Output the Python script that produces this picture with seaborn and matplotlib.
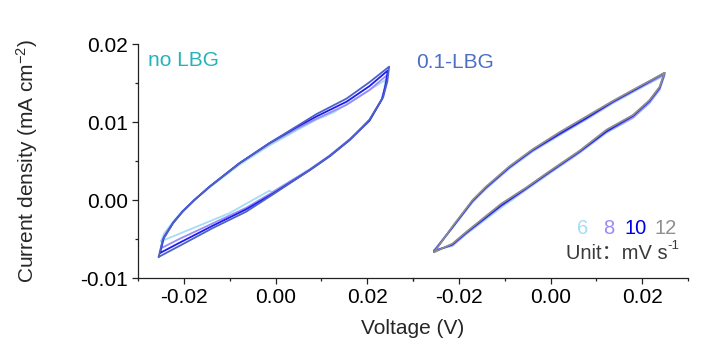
import pandas as pd
import numpy as np
import matplotlib
matplotlib.use('Agg')
import matplotlib.pyplot as plt
from matplotlib.ticker import MultipleLocator
import seaborn as sns

# scan rates (mV/s)
rates = ['6', '8', '10', '12']

# ---- no LBG (left panel) ----
noLBG_lower_V = {
    '6':  [-0.0250, -0.0101, -0.0013, -0.0008, 0.0074, 0.0118, 0.0162, 0.0205, 0.0230, 0.0237, 0.0240],
    '8':  [-0.0250, -0.0210, -0.0137, -0.0064, -0.0006, 0.0074, 0.0118, 0.0162, 0.0205, 0.0232, 0.0239, 0.0243],
    '10': [-0.0252, -0.0210, -0.0137, -0.0064, -0.0006, 0.0074, 0.0118, 0.0162, 0.0205, 0.0233, 0.0241, 0.0245],
    '12': [-0.0255, -0.0210, -0.0137, -0.0064, -0.0006, 0.0074, 0.0118, 0.0162, 0.0205, 0.0235, 0.0244, 0.0248],
}
noLBG_lower_I = {
    '6':  [-0.0053, -0.0017, 0.0012, 0.0010, 0.0039, 0.0057, 0.0078, 0.0101, 0.0127, 0.0141, 0.0154],
    '8':  [-0.0062, -0.0050, -0.0030, -0.0010, 0.0010, 0.0039, 0.0057, 0.0078, 0.0102, 0.0129, 0.0145, 0.0160],
    '10': [-0.0068, -0.0055, -0.0033, -0.0012, 0.0008, 0.0038, 0.0056, 0.0077, 0.0102, 0.0130, 0.0149, 0.0166],
    '12': [-0.0073, -0.0059, -0.0036, -0.0015, 0.0007, 0.0038, 0.0056, 0.0077, 0.0103, 0.0132, 0.0152, 0.0171],
}
noLBG_upper_V = {
    '6':  [-0.0250, -0.0242, -0.0221, -0.0203, -0.0177, -0.0144, -0.0079, -0.0013, 0.0045, 0.0089, 0.0126, 0.0240],
    '8':  [-0.0250, -0.0243, -0.0222, -0.0203, -0.0177, -0.0144, -0.0079, -0.0013, 0.0045, 0.0089, 0.0155, 0.0205, 0.0243],
    '10': [-0.0252, -0.0244, -0.0223, -0.0203, -0.0177, -0.0144, -0.0079, -0.0013, 0.0045, 0.0089, 0.0155, 0.0205, 0.0245],
    '12': [-0.0255, -0.0246, -0.0224, -0.0203, -0.0177, -0.0144, -0.0079, -0.0013, 0.0045, 0.0089, 0.0155, 0.0205, 0.0248],
}
noLBG_upper_I = {
    '6':  [-0.0053, -0.0042, -0.0026, -0.0014, 0.0000, 0.0016, 0.0045, 0.0070, 0.0089, 0.0103, 0.0112, 0.0154],
    '8':  [-0.0062, -0.0046, -0.0028, -0.0015, 0.0000, 0.0017, 0.0047, 0.0072, 0.0091, 0.0104, 0.0122, 0.0141, 0.0160],
    '10': [-0.0068, -0.0049, -0.0029, -0.0015, 0.0000, 0.0017, 0.0047, 0.0073, 0.0093, 0.0107, 0.0126, 0.0146, 0.0166],
    '12': [-0.0073, -0.0051, -0.0030, -0.0015, 0.0000, 0.0017, 0.0047, 0.0073, 0.0094, 0.0110, 0.0130, 0.0151, 0.0171],
}

# ---- 0.1-LBG (right panel) ----
LBG_lower_V = [-0.0254, -0.0214, -0.0184, -0.0108, -0.0053, -0.0002, 0.0063, 0.0122, 0.0180, 0.0216, 0.0238, 0.0249]
LBG_lower_I = {
    '6':  [-0.0064, -0.0059, -0.0044, -0.0010, 0.0013, 0.0034, 0.0060, 0.0086, 0.0105, 0.0124, 0.0141, 0.0160],
    '8':  [-0.0065, -0.0058, -0.0043, -0.0008, 0.0014, 0.0035, 0.0061, 0.0087, 0.0106, 0.0125, 0.0142, 0.0161],
    '10': [-0.0066, -0.0057, -0.0042, -0.0007, 0.0015, 0.0036, 0.0062, 0.0088, 0.0108, 0.0127, 0.0144, 0.0163],
    '12': [-0.0067, -0.0056, -0.0041, -0.0005, 0.0016, 0.0037, 0.0063, 0.0090, 0.0109, 0.0128, 0.0145, 0.0163],
}
LBG_upper_V = [-0.0254, -0.0214, -0.0170, -0.0141, -0.0090, -0.0039, 0.0020, 0.0078, 0.0136, 0.0195, 0.0249]
LBG_upper_I = {
    '6':  [-0.0064, -0.0036, -0.0003, 0.0014, 0.0040, 0.0062, 0.0083, 0.0103, 0.0124, 0.0143, 0.0160],
    '8':  [-0.0065, -0.0035, -0.0002, 0.0015, 0.0041, 0.0063, 0.0084, 0.0104, 0.0125, 0.0144, 0.0161],
    '10': [-0.0066, -0.0035, -0.0001, 0.0016, 0.0042, 0.0064, 0.0085, 0.0105, 0.0126, 0.0145, 0.0163],
    '12': [-0.0067, -0.0034, 0.0000, 0.0017, 0.0043, 0.0065, 0.0087, 0.0107, 0.0127, 0.0146, 0.0163],
}

left_palette = ['#a6dcf5', '#9a8cf2', '#1c1cf0', '#4d61c6']
right_palette = ['#a6dcf5', '#9a8cf2', '#1c1cf0', '#8c8c8c']
legend_colors = ['#a6dcf5', '#9a8cf2', '#0000e6', '#8f8f8f']


def build_loops(lower_V, lower_I, upper_V, upper_I):
    """Closed CV loop per scan rate: lower branch forward, upper branch back."""
    rows = []
    for r in rates:
        lv = lower_V[r] if isinstance(lower_V, dict) else lower_V
        uv = upper_V[r] if isinstance(upper_V, dict) else upper_V
        vs = list(lv) + list(uv)[::-1]
        cs = list(lower_I[r]) + list(upper_I[r])[::-1]
        for k, (v, c) in enumerate(zip(vs, cs)):
            rows.append({'rate': r, 'step': k, 'V': v, 'I': c})
    return pd.DataFrame(rows)


sns.set_theme(style='ticks')
plt.rcParams['font.family'] = ['Liberation Sans', 'Noto Sans CJK SC']
plt.rcParams['mathtext.fontset'] = 'custom'
plt.rcParams['mathtext.rm'] = 'Liberation Sans'
plt.rcParams['mathtext.default'] = 'regular'

fig = plt.figure(figsize=(7.2, 3.46), dpi=100)
W, H = 720, 346
ax1 = fig.add_axes([138 / W, 1 - 278 / H, 275 / W, 234 / H])
ax2 = fig.add_axes([413 / W, 1 - 278 / H, 275 / W, 234 / H])

df_left = build_loops(noLBG_lower_V, noLBG_lower_I, noLBG_upper_V, noLBG_upper_I)
df_right = build_loops(LBG_lower_V, LBG_lower_I, LBG_upper_V, LBG_upper_I)

sns.lineplot(data=df_left, x='V', y='I', hue='rate', hue_order=rates, palette=left_palette,
             sort=False, estimator=None, lw=1.3, legend=False, ax=ax1)
sns.lineplot(data=df_right, x='V', y='I', hue='rate', hue_order=rates, palette=right_palette,
             sort=False, estimator=None, lw=1.3, legend=False, ax=ax2)

for ax in (ax1, ax2):
    ax.set_xlim(-0.03, 0.03)
    ax.set_ylim(-0.01, 0.02)
    ax.set_xticks([-0.02, 0.00, 0.02])
    ax.set_xticklabels(['-0.02', '0.00', '0.02'])
    ax.xaxis.set_minor_locator(MultipleLocator(0.01))
    ax.set_xlabel('')
    ax.set_ylabel('')
    ax.patch.set_alpha(0)
    for s in ('top', 'right'):
        ax.spines[s].set_visible(False)
    ax.spines['bottom'].set_color('#222222')
    ax.spines['bottom'].set_linewidth(0.9)
    ax.tick_params(axis='both', which='major', length=4, width=0.9, color='#222222',
                   labelsize=15, labelcolor='black', pad=3)
    ax.tick_params(axis='both', which='minor', length=2.5, width=0.9, color='#222222')

ax1.set_yticks([-0.01, 0.00, 0.01, 0.02])
ax1.set_yticklabels(['-0.01', '0.00', '0.01', '0.02'])
ax1.yaxis.set_minor_locator(MultipleLocator(0.005))
ax1.spines['left'].set_color('#222222')
ax1.spines['left'].set_linewidth(0.9)
ax2.spines['left'].set_visible(False)
ax2.tick_params(axis='y', which='both', left=False, labelleft=False)

ax1.set_ylabel('Current density (mA cm$^{-2}$)', fontsize=15)
ax1.yaxis.set_label_coords(-0.355, 0.5)
fig.text(413 / W, 1 - 329 / H, 'Voltage (V)', fontsize=15, ha='center', va='center')

fig.text(148 / W, 1 - 60 / H, 'no LBG', fontsize=15, color='#26b3b8', ha='left', va='center')
fig.text(416 / W, 1 - 63 / H, '0.1-LBG', fontsize=15, color='#4c6ec6', ha='left', va='center')

legend_x = [577, 603, 624, 654]
for r, c, x in zip(rates, legend_colors, legend_x):
    fig.text(x / W, 1 - 229 / H, r, fontsize=14.5, color=c, ha='left', va='center')
fig.text(566 / W, 1 - 253 / H, 'Unit：mV s', fontsize=14.5, color='#3a3a3a',
         family=['Liberation Sans', 'Noto Sans CJK SC'], ha='left', va='center')
fig.text(667 / W, 1 - 246 / H, '-1', fontsize=9.5, color='#3a3a3a',
         ha='left', va='center')

fig.savefig('out.png', dpi=100)
